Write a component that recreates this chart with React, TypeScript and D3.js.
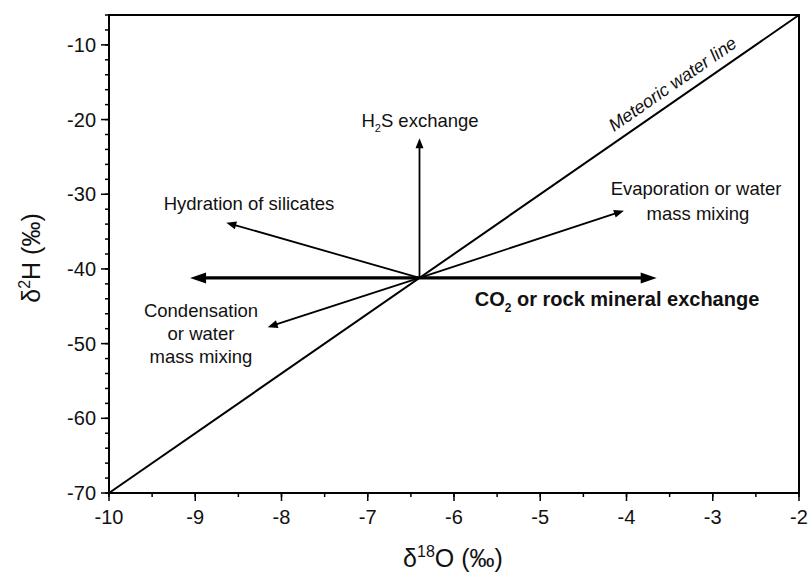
import React from "react";
import * as d3 from "d3";

const W = 809, H = 575;
const M = { left: 109, right: 10, top: 15, bottom: 82 };
const xDomain = [-10, -2];
const yDomain = [-70, -6];
const xTicks = [-10, -9, -8, -7, -6, -5, -4, -3, -2];
const yTicks = [-70, -60, -50, -40, -30, -20, -10];
const xMinor = d3.range(-10, -1.99, 0.5);
const yMinor = d3.range(-70, -5.99, 2);

const origin = [-6.4, -41.2];
const mwlX = [-10, -2];
const mwlY = [-70, -6];
const arrowNames = ["co2", "left", "h2s", "hydration", "evaporation", "condensation"];
const arrowX = [-3.65, -9.06, -6.4, -8.64, -4.03, -8.16];
const arrowY = [-41.2, -41.2, -22.5, -33.8, -32.2, -47.8];
const arrowThick = [true, true, false, false, false, false];

export default function App() {
  const x = d3.scaleLinear().domain(xDomain).range([M.left, W - M.right]);
  const y = d3.scaleLinear().domain(yDomain).range([H - M.bottom, M.top]);
  const x0 = x(origin[0]), y0 = y(origin[1]);
  const font = "Liberation Sans, Arial, sans-serif";
  const line = d3.line<[number, number]>().x(d => x(d[0])).y(d => y(d[1]));

  const arrows = arrowNames.map((n, i) => {
    const x1 = x(arrowX[i]), y1 = y(arrowY[i]);
    const ang = Math.atan2(y1 - y0, x1 - x0);
    const thick = arrowThick[i];
    const hl = thick ? 16 : 10, hw = thick ? 5.5 : 4;
    const bx = x1 - hl * Math.cos(ang), by = y1 - hl * Math.sin(ang);
    const px = -Math.sin(ang), py = Math.cos(ang);
    const head = `M${x1},${y1}L${bx + hw * px},${by + hw * py}L${bx - hw * px},${by - hw * py}Z`;
    return (
      <g key={n}>
        <line x1={x0} y1={y0} x2={bx + 2 * Math.cos(ang)} y2={by + 2 * Math.sin(ang)} stroke="#000" strokeWidth={thick ? 3.2 : 1.8} />
        <path d={head} fill="#000" />
      </g>
    );
  });

  const bx0 = M.left, bx1 = W - M.right, by0 = M.top, by1 = H - M.bottom;
  const ang = (Math.atan2(y(-6) - y(-70), x(-2) - x(-10)) * 180) / Math.PI;

  return (
    <svg width={W} height={H} style={{ position: "absolute", left: 0, top: 0, background: "#fff" }} fontFamily={font}>
      <rect x={0} y={0} width={W} height={H} fill="#fff" />
      <path d={line([[mwlX[0], mwlY[0]], [mwlX[1], mwlY[1]]]) || ""} stroke="#000" strokeWidth={2} fill="none" />
      {arrows}
      <rect x={bx0} y={by0} width={bx1 - bx0} height={by1 - by0} fill="none" stroke="#000" strokeWidth={2} />
      {xMinor.map(v => (
        <line key={"xm" + v} x1={x(v)} x2={x(v)} y1={by1} y2={by1 + 4} stroke="#000" strokeWidth={1.5} />
      ))}
      {xTicks.map(v => (
        <g key={"xt" + v}>
          <line x1={x(v)} x2={x(v)} y1={by1} y2={by1 + 8} stroke="#000" strokeWidth={1.5} />
          <text x={x(v)} y={by1 + 31} textAnchor="middle" fontSize={20} fill="#111">{v}</text>
        </g>
      ))}
      {yMinor.map(v => (
        <line key={"ym" + v} x1={bx0 - 4} x2={bx0} y1={y(v)} y2={y(v)} stroke="#000" strokeWidth={1.5} />
      ))}
      {yTicks.map(v => (
        <g key={"yt" + v}>
          <line x1={bx0 - 8} x2={bx0} y1={y(v)} y2={y(v)} stroke="#000" strokeWidth={1.5} />
          <text x={bx0 - 13} y={y(v) + 7} textAnchor="end" fontSize={20} fill="#111">{v}</text>
        </g>
      ))}
      <text x={453} y={567} textAnchor="middle" fontSize={25} fill="#111">
        δ<tspan dy={-10} fontSize={16}>18</tspan><tspan dy={10}>O (‰)</tspan>
      </text>
      <text transform={`translate(40,258) rotate(-90)`} textAnchor="middle" fontSize={25} fill="#111">
        δ<tspan dy={-10} fontSize={16}>2</tspan><tspan dy={10}>H (‰)</tspan>
      </text>
      <text x={420} y={127} textAnchor="middle" fontSize={18.5} fill="#111">
        H<tspan dy={5} fontSize={11}>2</tspan><tspan dy={-5}>S exchange</tspan>
      </text>
      <text x={249} y={210} textAnchor="middle" fontSize={18.5} fill="#111">Hydration of silicates</text>
      <text x={696} y={195} textAnchor="middle" fontSize={18.5} fill="#111">Evaporation or water</text>
      <text x={698} y={220} textAnchor="middle" fontSize={18.5} fill="#111">mass mixing</text>
      <text x={201} y={317} textAnchor="middle" fontSize={18.5} fill="#111">Condensation</text>
      <text x={201} y={340} textAnchor="middle" fontSize={18.5} fill="#111">or water</text>
      <text x={201} y={363} textAnchor="middle" fontSize={18.5} fill="#111">mass mixing</text>
      <text x={617} y={306} textAnchor="middle" fontSize={20} fontWeight="bold" fill="#111">
        CO<tspan dy={6} fontSize={12}>2</tspan><tspan dy={-6}> or rock mineral exchange</tspan>
      </text>
      <text transform={`translate(676,89) rotate(${ang})`} textAnchor="middle" fontSize={18} fontStyle="italic" fill="#111">Meteoric water line</text>
    </svg>
  );
}
